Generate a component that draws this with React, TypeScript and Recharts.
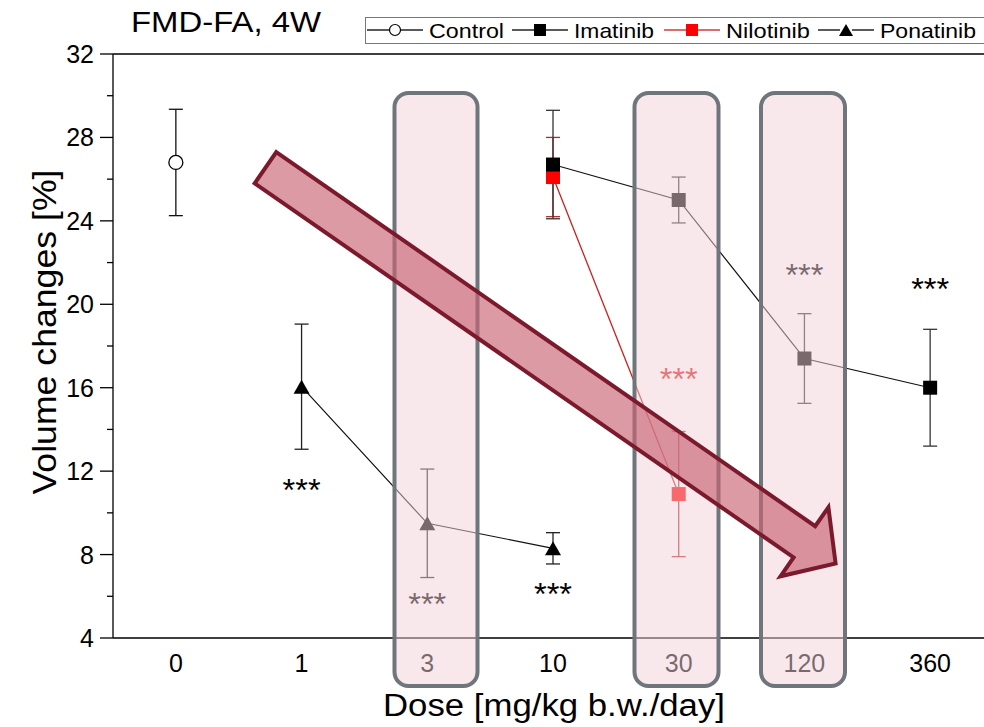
import { ComposedChart, Line, XAxis, YAxis, ErrorBar, ReferenceLine } from 'recharts'

const FONT = "'Liberation Sans', Arial, sans-serif"

// doses on the x axis (mg/kg b.w./day)
const DOSES = ['0', '1', '3', '10', '30', '120', '360']

// volume changes [%] and their error bars
const CONTROL = [26.8, null, null, null, null, null, null]
const CONTROL_SD = [2.55, null, null, null, null, null, null]
const IMATINIB = [null, null, null, 26.7, 25.0, 17.4, 16.0]
const IMATINIB_SD = [null, null, null, 2.6, 1.1, 2.15, 2.8]
const NILOTINIB = [null, null, null, 26.1, 10.9, null, null]
const NILOTINIB_SD = [null, null, null, 1.9, 3.0, null, null]
const PONATINIB = [null, 16.05, 9.5, 8.3, null, null, null]
const PONATINIB_SD = [null, 3.0, 2.6, 0.75, null, null, null]

// significance marks (***), placed at these y values
const STAR_Y = [null, 11.4, 5.9, 6.4, 16.7, 21.7, 21.0]
const STAR_COLOR = ['#000', '#000', '#000', '#000', '#e01515', '#000', '#000']

const Y_TICKS = [4, 6, 8, 10, 12, 14, 16, 18, 20, 22, 24, 26, 28, 30, 32]

const rows = DOSES.map((dose, i) => ({
  dose,
  control: CONTROL[i],
  controlSd: CONTROL_SD[i],
  imatinib: IMATINIB[i],
  imatinibSd: IMATINIB_SD[i],
  nilotinib: NILOTINIB[i],
  nilotinibSd: NILOTINIB_SD[i],
  ponatinib: PONATINIB[i],
  ponatinibSd: PONATINIB_SD[i],
  star: STAR_Y[i],
  starColor: STAR_COLOR[i],
}))

const empty = (p: any) => <g key={`e-${p.index}`} />

const squareDot = (fill: string, size: number) => (p: any) => {
  if (p.cx == null || p.cy == null) return empty(p)
  return <rect key={`s-${p.index}`} x={p.cx - size / 2} y={p.cy - size / 2} width={size} height={size} fill={fill} />
}

const triangleDot = (p: any) => {
  if (p.cx == null || p.cy == null) return empty(p)
  const w = 16
  const h = 14
  return (
    <polygon
      key={`t-${p.index}`}
      points={`${p.cx - w / 2},${p.cy + h / 2} ${p.cx + w / 2},${p.cy + h / 2} ${p.cx},${p.cy - h / 2}`}
      fill="#000"
    />
  )
}

const circleDot = (p: any) => {
  if (p.cx == null || p.cy == null) return empty(p)
  return <circle key={`c-${p.index}`} cx={p.cx} cy={p.cy} r={7} fill="#fff" stroke="#000" strokeWidth={1.3} />
}

const starDot = (p: any) => {
  if (p.cx == null || p.cy == null) return empty(p)
  return (
    <text key={`a-${p.index}`} x={p.cx} y={p.cy + 17} textAnchor="middle" fontSize={32} fill={p.payload.starColor}
      fontFamily={FONT} textLength={38} lengthAdjust="spacingAndGlyphs">
      ***
    </text>
  )
}

function YTick({ x, y, payload }: any) {
  const major = payload.value % 4 === 0
  return (
    <g>
      <line x1={x - (major ? 13 : 6)} x2={x} y1={y} y2={y} stroke="#000" strokeWidth={1.3} />
      {major && (
        <text x={x - 19} y={y} dy="0.36em" textAnchor="end" fontSize={25} fill="#000" fontFamily={FONT}>
          {payload.value}
        </text>
      )}
    </g>
  )
}

// highlight boxes and the trend arrow drawn over the figure
const BOXES = [
  { x: 394.5, w: 83 },
  { x: 634.5, w: 84 },
  { x: 761, w: 84 },
]
const ARROW = '276.3,152.1 815.2,526.2 828.4,507.3 835.6,563.4 780.5,576.3 793.6,557.4 254.7,183.3'

function LegendItem({ x, color, symbol, label, len }: any) {
  const cy = 30
  const mid = x + 28
  return (
    <g>
      <line x1={x} x2={x + 22} y1={cy} y2={cy} stroke={color} strokeWidth={1.3} />
      <line x1={x + 34} x2={x + 56} y1={cy} y2={cy} stroke={color} strokeWidth={1.3} />
      {symbol === 'circle' && <circle cx={mid} cy={cy} r={5.5} fill="#fff" stroke="#000" strokeWidth={1.2} />}
      {symbol === 'square' && <rect x={mid - 6} y={cy - 6} width={12} height={12} fill={color === '#000' ? '#000' : '#ff0000'} />}
      {symbol === 'triangle' && <polygon points={`${mid - 7},${cy + 6} ${mid + 7},${cy + 6} ${mid},${cy - 6}`} fill="#000" />}
      <text x={x + 62} y={cy + 7.5} fontSize={21} fill="#000" fontFamily={FONT} textLength={len} lengthAdjust="spacingAndGlyphs">
        {label}
      </text>
    </g>
  )
}

export default function App() {
  return (
    <div style={{ position: 'absolute', left: 0, top: 0, width: 984, height: 727, overflow: 'hidden', background: '#fff' }}>
      <ComposedChart
        width={1000}
        height={727}
        data={rows}
        margin={{ top: 54, right: 7, bottom: 0, left: 53 }}
        style={{ fontFamily: FONT }}
      >
        <XAxis
          dataKey="dose"
          type="category"
          scale="band"
          tickLine={false}
          tickSize={0}
          tickMargin={16}
          height={89}
          axisLine={{ stroke: '#000', strokeWidth: 1.3 }}
          tick={{ fontSize: 25, fill: '#000', fontFamily: FONT }}
          interval={0}
        />
        <YAxis
          type="number"
          domain={[4, 32]}
          ticks={Y_TICKS}
          interval={0}
          width={60}
          tickLine={false}
          tickSize={0}
          tickMargin={0}
          axisLine={{ stroke: '#000', strokeWidth: 1.3 }}
          tick={<YTick />}
        />
        <ReferenceLine y={32} stroke="#000" strokeWidth={1.3} />
        <Line dataKey="control" stroke="#000" dot={circleDot} activeDot={false} isAnimationActive={false}>
          <ErrorBar dataKey="controlSd" width={7} stroke="#111" strokeWidth={1.3} direction="y" />
        </Line>
        <Line dataKey="ponatinib" stroke="#111" strokeWidth={1.2} dot={triangleDot} activeDot={false} isAnimationActive={false}>
          <ErrorBar dataKey="ponatinibSd" width={7} stroke="#222" strokeWidth={1.3} direction="y" />
        </Line>
        <Line dataKey="nilotinib" stroke="#c8201e" strokeWidth={1.3} dot={squareDot('#ff0000', 14)} activeDot={false} isAnimationActive={false}>
          <ErrorBar dataKey="nilotinibSd" width={7} stroke="#b02a2a" strokeWidth={1.3} direction="y" />
        </Line>
        <Line dataKey="imatinib" stroke="#111" strokeWidth={1.2} dot={squareDot('#000', 14)} activeDot={false} isAnimationActive={false}>
          <ErrorBar dataKey="imatinibSd" width={7} stroke="#333" strokeWidth={1.3} direction="y" />
        </Line>
        <Line dataKey="star" stroke="none" dot={starDot} activeDot={false} legendType="none" isAnimationActive={false} />
      </ComposedChart>

      <svg width={984} height={727} style={{ position: 'absolute', left: 0, top: 0, pointerEvents: 'none' }} fontFamily={FONT}>
        {BOXES.map((b) => (
          <rect key={b.x} x={b.x} y={93} width={b.w} height={593} rx={14} ry={14}
            fill="rgb(241,209,217)" fillOpacity={0.5} stroke="#6e767c" strokeWidth={4} />
        ))}
        <polygon points={ARROW} fill="rgb(200,100,115)" fillOpacity={0.65} stroke="#7b1a2c" strokeWidth={4} strokeLinejoin="miter" />

        <text x={131} y={32} fontSize={29} fill="#000" textLength={190} lengthAdjust="spacingAndGlyphs">FMD-FA, 4W</text>

        <rect x={365.5} y={17.5} width={640} height={26} fill="#fff" stroke="#777" strokeWidth={1} />
        <LegendItem x={367} color="#000" symbol="circle" label="Control" len={75} />
        <LegendItem x={512} color="#000" symbol="square" label="Imatinib" len={80} />
        <LegendItem x={664} color="#c8201e" symbol="square" label="Nilotinib" len={84} />
        <LegendItem x={818} color="#000" symbol="triangle" label="Ponatinib" len={96} />

        <text transform="translate(56,332) rotate(-90)" textAnchor="middle" fontSize={33} fill="#000" textLength={325} lengthAdjust="spacingAndGlyphs">Volume changes [%]</text>
        <text x={554} y={716} textAnchor="middle" fontSize={31} fill="#000" textLength={342} lengthAdjust="spacingAndGlyphs">Dose [mg/kg b.w./day]</text>
      </svg>
    </div>
  )
}
